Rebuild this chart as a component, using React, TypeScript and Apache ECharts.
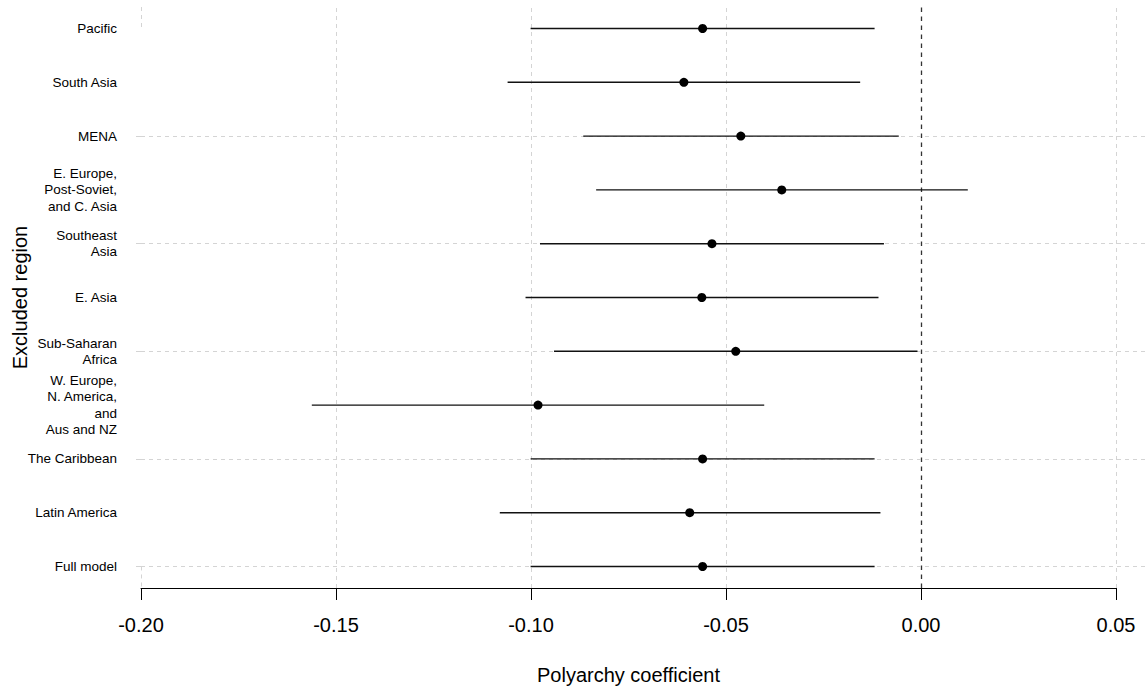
import React, { useEffect, useRef } from "react";
import * as echarts from "echarts";

// Rows from bottom (index 0) to top (index 10)
const regions = [
  "Full model",
  "Latin America",
  "The Caribbean",
  "W. Europe,\nN. America,\nand\nAus and NZ",
  "Sub-Saharan\nAfrica",
  "E. Asia",
  "Southeast\nAsia",
  "E. Europe,\nPost-Soviet,\nand C. Asia",
  "MENA",
  "South Asia",
  "Pacific",
];

const estimates = [-0.056, -0.0593, -0.056, -0.0982, -0.0475, -0.0562, -0.0536, -0.0357, -0.0462, -0.0608, -0.056];
const lower = [-0.1001, -0.108, -0.1001, -0.1562, -0.0941, -0.1014, -0.0977, -0.0833, -0.0866, -0.106, -0.1001];
const upper = [-0.0119, -0.0104, -0.0119, -0.0402, -0.0009, -0.0109, -0.0095, 0.012, -0.0057, -0.0156, -0.0119];

const fullGridX = [-0.15, -0.1, -0.05, 0.05];
const shadedRows = [0, 2, 4, 6, 8];

const FONT = "'Liberation Sans', Arial, Helvetica, sans-serif";
const GRID_COLOR = "#d4d4d4";

export default function App() {
  const ref = useRef<HTMLDivElement>(null);

  useEffect(() => {
    if (!ref.current) return;
    const chart = echarts.init(ref.current, null, { renderer: "svg" });

    const yMin = -0.4;
    const yMax = 10.4;
    const rowIdx = regions.map((_, i) => i);

    const lightDash = { color: GRID_COLOR, width: 1, type: [4, 4] as number[] };

    const verticalLines: any[] = fullGridX.map((v) => ({ xAxis: v, lineStyle: lightDash }));
    verticalLines.push({ xAxis: 0, lineStyle: { color: "#333", width: 1.3, type: [4.5, 4.5] } });
    verticalLines.push([
      { coord: [-0.2, yMax], lineStyle: lightDash },
      { coord: [-0.2, 10] },
    ]);
    verticalLines.push([
      { coord: [-0.2, 0], lineStyle: lightDash },
      { coord: [-0.2, yMin] },
    ]);

    const option: any = {
      animation: false,
      backgroundColor: "#ffffff",
      textStyle: { fontFamily: FONT },
      grid: [
        { left: 141, right: 32, top: 7, bottom: 99, containLabel: false, outerBoundsMode: "none" },
        { left: 141, right: 0, top: 7, bottom: 99, containLabel: false, outerBoundsMode: "none" },
      ],
      xAxis: [
        {
          type: "value",
          gridIndex: 0,
          min: -0.2,
          max: 0.05,
          interval: 0.05,
          name: "Polyarchy coefficient",
          nameLocation: "middle",
          nameGap: 77,
          nameMoveOverlap: false,
          nameTextStyle: { fontSize: 20, color: "#000", fontFamily: FONT },
          axisLine: { show: true, onZero: false, lineStyle: { color: "#000", width: 1 } },
          axisTick: { show: true, length: 12, lineStyle: { color: "#000", width: 1 } },
          axisLabel: {
            fontSize: 20,
            color: "#000",
            margin: 27,
            fontFamily: FONT,
            formatter: (v: number) => v.toFixed(2),
          },
          splitLine: { show: false },
        },
        {
          type: "value",
          gridIndex: 1,
          min: 0,
          max: 1,
          show: false,
        },
      ],
      yAxis: [
        {
          type: "value",
          gridIndex: 0,
          min: yMin,
          max: yMax,
          name: "Excluded region",
          nameLocation: "middle",
          nameGap: 111,
          nameMoveOverlap: false,
          nameRotate: 90,
          nameTextStyle: { fontSize: 20, color: "#000", fontFamily: FONT },
          axisLine: { show: false },
          axisTick: { show: false },
          splitLine: { show: false },
          axisLabel: {
            customValues: rowIdx,
            margin: 24,
            fontSize: 13.5,
            lineHeight: 16.5,
            color: "#000",
            fontFamily: FONT,
            align: "right",
            formatter: (v: number) => regions[Math.round(v)] ?? "",
          },
        },
        {
          type: "value",
          gridIndex: 1,
          min: yMin,
          max: yMax,
          offset: 14,
          axisLine: { show: false },
          axisLabel: { show: false },
          splitLine: { show: false },
          axisTick: {
            show: true,
            customValues: shadedRows,
            length: 5,
            lineStyle: { color: GRID_COLOR, width: 1 },
          },
        },
      ],
      series: [
        {
          type: "scatter",
          xAxisIndex: 0,
          yAxisIndex: 0,
          data: [],
          z: 1,
          silent: true,
          markLine: {
            z: 1,
            silent: true,
            symbol: ["none", "none"],
            label: { show: false },
            data: verticalLines,
          },
        },
        {
          type: "scatter",
          xAxisIndex: 1,
          yAxisIndex: 1,
          data: [],
          z: 1,
          silent: true,
          markLine: {
            z: 1,
            silent: true,
            symbol: ["none", "none"],
            label: { show: false },
            lineStyle: lightDash,
            data: shadedRows.map((r) => ({ yAxis: r })),
          },
        },
        {
          type: "custom",
          xAxisIndex: 0,
          yAxisIndex: 0,
          z: 10,
          silent: true,
          data: rowIdx.map((i) => [lower[i], upper[i], i]),
          renderItem: (params: any, api: any) => {
            const a = api.coord([api.value(0), api.value(2)]);
            const b = api.coord([api.value(1), api.value(2)]);
            return {
              type: "line",
              shape: { x1: a[0], y1: a[1], x2: b[0], y2: b[1] },
              style: { stroke: "#111", lineWidth: 1.4 },
            };
          },
        },
        {
          type: "scatter",
          xAxisIndex: 0,
          yAxisIndex: 0,
          z: 11,
          symbol: "circle",
          symbolSize: 9,
          itemStyle: { color: "#000", opacity: 1 },
          data: rowIdx.map((i) => [estimates[i], i]),
        },
      ],
    };

    chart.setOption(option);
    return () => chart.dispose();
  }, []);

  return (
    <div
      ref={ref}
      style={{ position: "absolute", left: 0, top: 0, width: 1148, height: 687, background: "#fff" }}
    />
  );
}
